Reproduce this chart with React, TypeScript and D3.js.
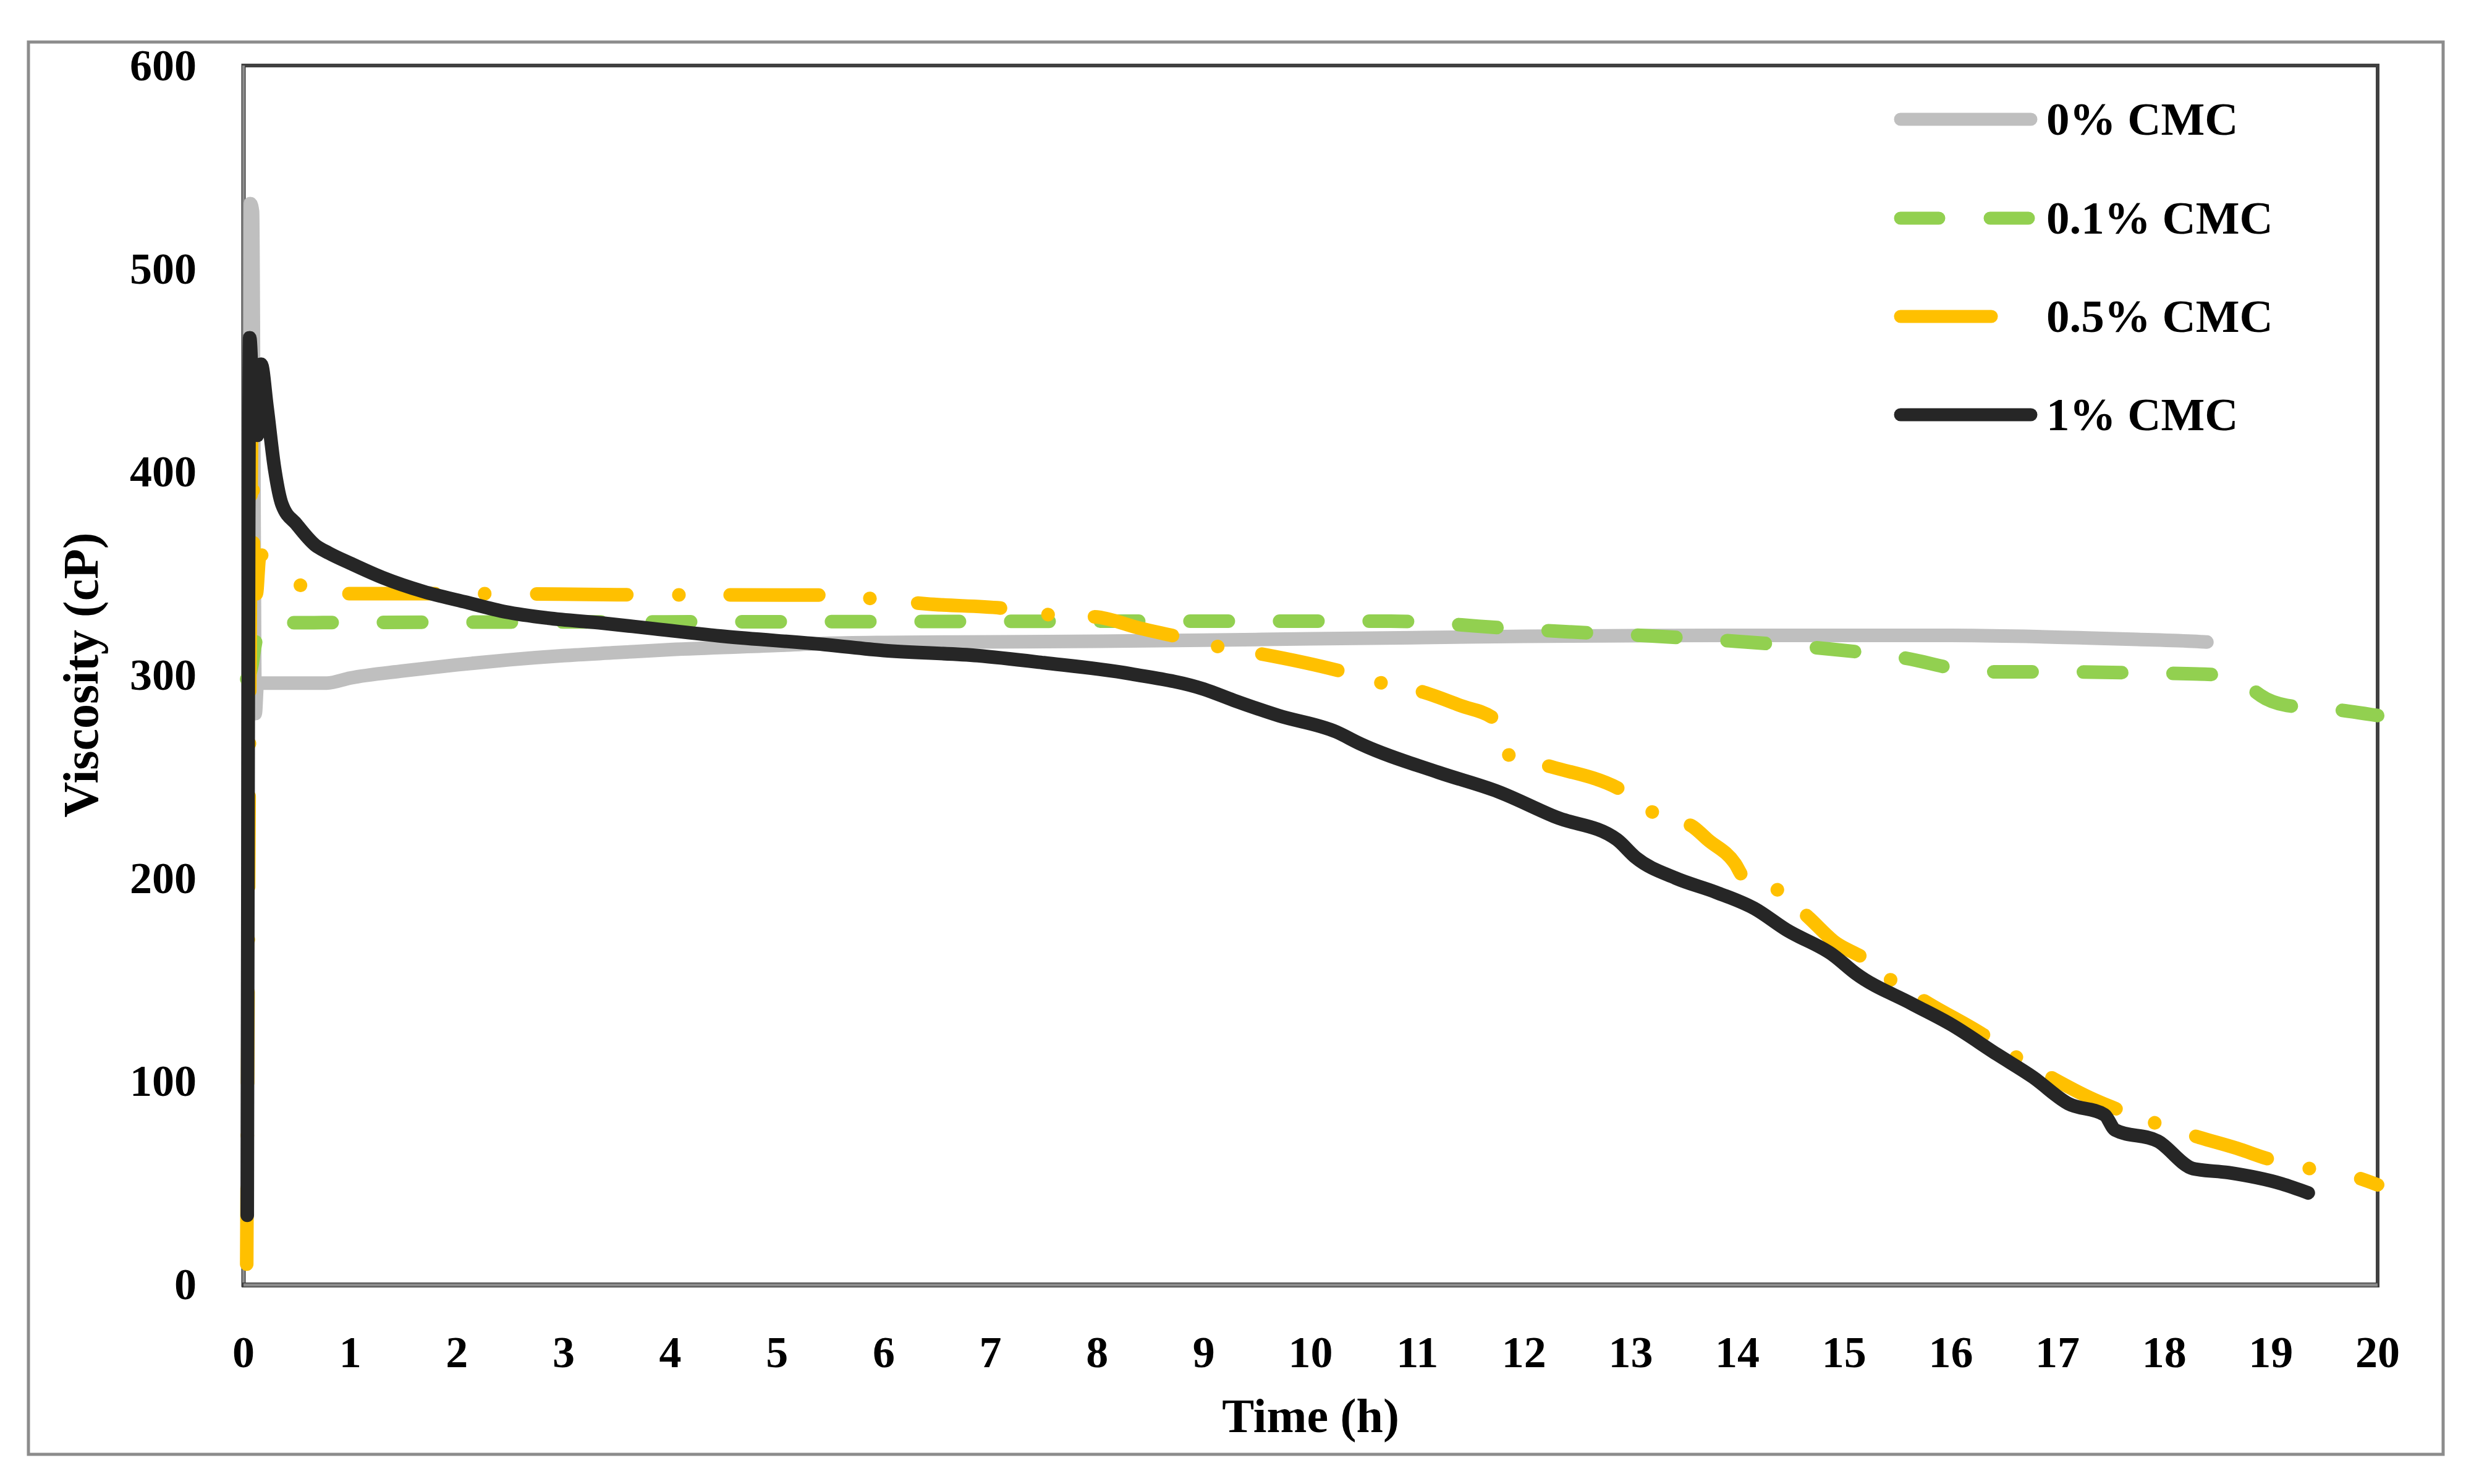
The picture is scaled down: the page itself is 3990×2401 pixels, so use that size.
import React from 'react';
import * as d3 from 'd3';

// ---------- data ----------
const timeTicks = [0, 1, 2, 3, 4, 5, 6, 7, 8, 9, 10, 11, 12, 13, 14, 15, 16, 17, 18, 19, 20];
const viscTicks = [0, 100, 200, 300, 400, 500, 600];

const seriesNames = ['0% CMC', '0.1% CMC', '0.5% CMC', '1% CMC'];

// [time (h), viscosity (cP)]
const cmc0: [number, number][] = [
  [0.06, 300], [0.065, 532], [0.085, 528], [0.11, 281], [0.13, 296], [0.78, 296], [1.0, 298.5],
  [1.5, 302], [2.0, 305], [2.5, 307.5], [3.0, 309.5], [3.5, 311], [4.0, 312.5], [5.0, 314.5],
  [5.44, 315.5], [6.0, 316], [7.0, 316.3], [8.0, 316.6], [9.0, 317.1], [10.0, 317.8],
  [11.05, 318.4], [12.0, 319], [13.0, 319.3], [14.0, 319.5], [15.0, 319.5], [16.0, 319.5],
  [16.7, 319], [17.2, 318.3], [17.75, 317.5], [18.3, 316.5], [18.4, 316.2],
];

const cmc01: [number, number][] = [
  [0.03, 298], [0.08, 305], [0.1, 312], [0.14, 322], [0.2, 325.6], [1, 325.8], [5, 326.2],
  [10, 326.5], [10.75, 326.5], [11.2, 325.5], [11.57, 324], [12.39, 321.3], [13.2, 319.2],
  [14.0, 316.5], [14.8, 313.1], [15.57, 308.3], [16.16, 302.2], [16.5, 301.5], [17, 301.5],
  [17.76, 301], [18.56, 300], [18.75, 298], [18.85, 292], [18.9, 290], [19.15, 285],
  [19.6, 283], [20, 280],
];

const cmc05: [number, number][] = [
  [0.03, 10], [0.06, 300], [0.08, 425], [0.1, 345], [0.12, 340], [0.15, 358], [0.22, 360],
  [0.3, 356], [0.54, 344], [0.9, 340], [1.8, 340], [2.3, 340], [3.5, 339.5], [5.4, 339.3],
  [6.1, 336.5], [6.4, 335], [7.16, 332.6], [7.56, 329.6], [8.0, 328.5], [8.4, 323],
  [8.78, 318.5], [9.13, 314], [9.5, 310.7], [10.3, 301.6], [10.67, 296], [11.06, 291.5],
  [11.4, 285], [11.73, 278], [11.87, 260], [12.27, 254.6], [12.94, 242.5], [13.22, 232],
  [13.59, 225], [13.72, 219], [13.98, 207], [14.05, 201], [14.4, 193.4], [14.68, 180],
  [14.9, 169], [15.2, 160], [15.46, 149], [15.8, 138], [16.3, 123], [16.64, 111],
  [16.97, 101], [17.3, 92], [17.57, 86], [17.94, 79], [18.32, 72.5], [18.68, 67],
  [18.99, 61.5], [19.39, 56.7], [19.8, 52.7], [20.0, 49],
];

// where the dots of the 0.5% CMC dash-dot line fall (h)
const cmc05DotTimes = [0.54, 2.27, 4.09, 5.88, 7.55, 9.14, 10.67, 11.87, 13.22, 14.4, 15.46, 16.64, 17.94, 19.39];

const cmc1: [number, number][] = [
  [0.035, 34], [0.058, 466], [0.1, 420], [0.13, 418], [0.165, 453], [0.22, 432], [0.29, 402],
  [0.36, 384], [0.5, 374], [0.67, 364], [0.8, 360], [1.0, 355], [1.3, 348], [1.69, 341],
  [2.07, 336], [2.46, 331], [2.85, 328], [3.37, 325.5], [3.8, 323], [4.5, 319], [5.44, 315],
  [6.0, 312], [6.88, 309.5], [7.5, 306], [8.32, 300.5], [9.0, 293], [9.28, 287.5],
  [9.7, 280], [10.24, 272], [10.47, 266], [11.2, 252], [11.76, 242.5], [12.3, 230],
  [12.87, 219], [13.05, 210], [13.42, 200], [13.8, 193], [14.16, 185], [14.46, 174.5],
  [14.9, 162], [15.11, 153], [15.64, 138], [16.0, 128], [16.44, 113], [16.77, 102],
  [17.1, 89], [17.44, 83.5], [17.54, 76], [17.94, 70.5], [18.27, 57], [18.6, 55],
  [19.1, 49.5], [19.35, 45],
];

// ---------- layout / style ----------
const W = 3990;
const H = 2401;
const plot = { left: 394, right: 3847, top: 106, bottom: 2078 };
const FONT = "'Liberation Serif', 'Times New Roman', serif";

const GREEN_DASH = '62 83';
const DD = { dot: 0.1, gap: 85, dash: 147 };
const YELLOW_LEGEND_DASH = `${DD.dash} ${DD.gap} ${DD.dot} ${DD.gap}`;

const colors = ['#BFBFBF', '#92D050', '#FFC000', '#262626'];

// build a dash-dot array aligned to the dot positions along the drawn path
function buildDashDot(
  pts: [number, number][],
  dotTimes: number[],
  fx: (t: number) => number,
  fy: (v: number) => number
): string {
  const px = pts.map((p) => [fx(p[0]), fy(p[1])]);
  const segLen: number[] = [];
  for (let i = 0; i < px.length - 1; i++) {
    segLen.push(Math.hypot(px[i + 1][0] - px[i][0], px[i + 1][1] - px[i][1]));
  }
  const total = segLen.reduce((a, b) => a + b, 0);
  const lengthAt = (t: number) => {
    let s = 0;
    for (let i = 0; i < pts.length - 1; i++) {
      if (pts[i + 1][0] <= t) s += segLen[i];
      else {
        if (pts[i][0] < t) s += ((t - pts[i][0]) / (pts[i + 1][0] - pts[i][0])) * segLen[i];
        break;
      }
    }
    return s;
  };
  const dotS = dotTimes.map(lengthAt);
  const segs: [boolean, number][] = [];
  // prefix, built backwards from the first dot
  const back: [boolean, number][] = [];
  const unitBack: [boolean, number][] = [
    [false, DD.gap],
    [true, DD.dash],
    [false, DD.gap],
    [true, DD.dot],
  ];
  let rem = dotS[0];
  let k = 0;
  while (rem > 0.001) {
    const [on, len] = unitBack[k % 4];
    const l = Math.min(len, rem);
    back.push([on, l]);
    rem -= l;
    k++;
  }
  segs.push(...back.reverse());
  const frac = DD.dash / (DD.dash + 2 * DD.gap + DD.dot);
  for (let i = 0; i < dotS.length - 1; i++) {
    const I = dotS[i + 1] - dotS[i];
    const D = I * frac;
    const a = (I - D - DD.dot) / 2;
    segs.push([true, DD.dot], [false, a], [true, D], [false, a]);
  }
  segs.push([true, DD.dot]);
  let covered = dotS[dotS.length - 1] + DD.dot;
  const unitFwd: [boolean, number][] = [
    [false, DD.gap],
    [true, DD.dash],
    [false, DD.gap],
    [true, DD.dot],
  ];
  k = 0;
  while (covered < total + 400) {
    segs.push(unitFwd[k % 4]);
    covered += unitFwd[k % 4][1];
    k++;
  }
  // merge into alternating on/off list starting with "on"
  const out: number[] = [];
  let cur = true;
  let acc = 0;
  for (const [on, len] of segs) {
    if (on === cur) acc += len;
    else {
      out.push(acc);
      cur = on;
      acc = len;
    }
  }
  out.push(acc);
  if (out.length % 2 === 1) out.push(100000);
  else out.push(0, 100000);
  return out.map((v) => v.toFixed(2)).join(' ');
}

export default function App() {
  const x = d3.scaleLinear().domain([0, 20]).range([plot.left, plot.right]);
  const y = d3.scaleLinear().domain([0, 600]).range([plot.bottom, plot.top]);
  const line = d3
    .line<[number, number]>()
    .x((d) => x(d[0]))
    .y((d) => y(d[1]))
    .curve(d3.curveMonotoneX);

  const data = [cmc0, cmc01, cmc05, cmc1];
  const yellowDash = buildDashDot(cmc05, cmc05DotTimes, x, y);
  const seriesDash = [undefined, GREEN_DASH, yellowDash, undefined];
  const legendDash = [undefined, GREEN_DASH, YELLOW_LEGEND_DASH, undefined];
  const legendY = [193, 353, 512, 671];
  const SW = 22;

  return (
    <svg
      width={W}
      height={H}
      viewBox={`0 0 ${W} ${H}`}
      style={{ position: 'absolute', left: 0, top: 0, display: 'block', background: '#fff' }}
    >
      <rect x={0} y={0} width={W} height={H} fill="#fff" />
      {/* outer chart frame */}
      <rect x={46} y={68} width={3907} height={2285} fill="#fff" stroke="#8c8c8c" strokeWidth={5} />
      {/* plot area border */}
      <rect
        x={plot.left}
        y={plot.top}
        width={plot.right - plot.left}
        height={plot.bottom - plot.top}
        fill="none"
        stroke="#404040"
        strokeWidth={6}
      />
      {/* axis lines */}
      <line x1={plot.left} x2={plot.left} y1={plot.top - 3} y2={plot.bottom + 4} stroke="#404040" strokeWidth={7} />
      <line x1={plot.left} x2={plot.left} y1={plot.top} y2={plot.bottom} stroke="#8c8c8c" strokeWidth={4} />
      <line x1={plot.left - 3} x2={plot.right + 3} y1={plot.bottom + 1} y2={plot.bottom + 1} stroke="#404040" strokeWidth={8} />
      <line x1={plot.left} x2={plot.right} y1={plot.bottom + 1} y2={plot.bottom + 1} stroke="#8c8c8c" strokeWidth={5} />

      {/* series */}
      {data.map((d, i) => (
        <path
          key={seriesNames[i]}
          d={line(d) || ''}
          fill="none"
          stroke={colors[i]}
          strokeWidth={SW}
          strokeLinecap="round"
          strokeLinejoin="round"
          strokeDasharray={seriesDash[i]}
        />
      ))}

      {/* y tick labels */}
      {viscTicks.map((v) => (
        <text
          key={'y' + v}
          x={318}
          y={y(v) + 24}
          textAnchor="end"
          fontFamily={FONT}
          fontWeight="bold"
          fontSize={72}
          fill="#000"
        >
          {v}
        </text>
      ))}
      {/* x tick labels */}
      {timeTicks.map((t) => (
        <text
          key={'x' + t}
          x={x(t)}
          y={2212}
          textAnchor="middle"
          fontFamily={FONT}
          fontWeight="bold"
          fontSize={72}
          fill="#000"
        >
          {t}
        </text>
      ))}

      {/* axis titles */}
      <text
        x={(plot.left + plot.right) / 2}
        y={2317}
        textAnchor="middle"
        fontFamily={FONT}
        fontWeight="bold"
        fontSize={78}
        fill="#000"
      >
        Time (h)
      </text>
      <text
        transform={`translate(158,${(plot.top + plot.bottom) / 2}) rotate(-90)`}
        textAnchor="middle"
        fontFamily={FONT}
        fontWeight="bold"
        fontSize={80}
        fill="#000"
      >
        Viscosity (cP)
      </text>

      {/* legend */}
      {seriesNames.map((name, i) => (
        <g key={'leg' + name}>
          <line
            x1={3075}
            x2={3286}
            y1={legendY[i]}
            y2={legendY[i]}
            stroke={colors[i]}
            strokeWidth={21}
            strokeLinecap="round"
            strokeDasharray={legendDash[i]}
          />
          <text
            x={3311}
            y={legendY[i] + 25}
            fontFamily={FONT}
            fontWeight="bold"
            fontSize={75}
            fill="#000"
          >
            {name}
          </text>
        </g>
      ))}
    </svg>
  );
}
